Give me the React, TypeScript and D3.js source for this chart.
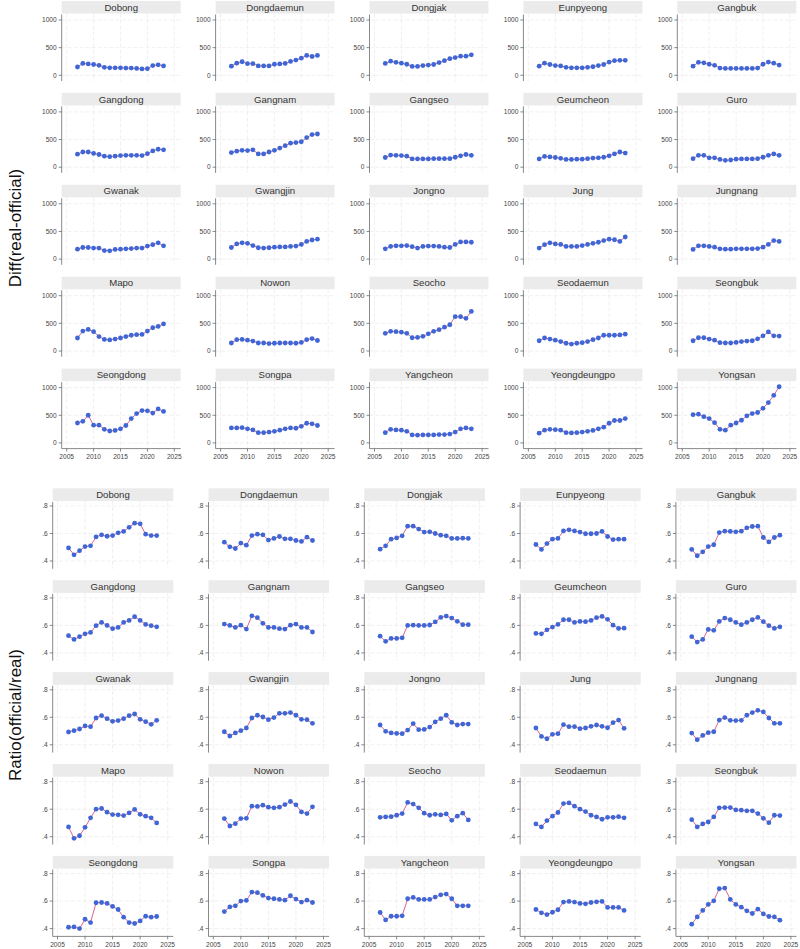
import React from 'react';
import * as d3 from 'd3';

const years = [2007, 2008, 2009, 2010, 2011, 2012, 2013, 2014, 2015, 2016, 2017, 2018, 2019, 2020, 2021, 2022, 2023];
const xTicks = [2005, 2010, 2015, 2020, 2025];
const diffTicks = [0, 500, 1000];
const ratioTicks = [0.4, 0.6, 0.8];

const districts = [
  'Dobong', 'Dongdaemun', 'Dongjak', 'Eunpyeong', 'Gangbuk',
  'Gangdong', 'Gangnam', 'Gangseo', 'Geumcheon', 'Guro',
  'Gwanak', 'Gwangjin', 'Jongno', 'Jung', 'Jungnang',
  'Mapo', 'Nowon', 'Seocho', 'Seodaemun', 'Seongbuk',
  'Seongdong', 'Songpa', 'Yangcheon', 'Yeongdeungpo', 'Yongsan',
];

// Diff(real-official), same order as districts
const diffValues: number[][] = [
  [150, 215, 205, 195, 180, 145, 135, 135, 135, 130, 130, 125, 115, 120, 175, 190, 170],
  [165, 220, 245, 210, 210, 170, 170, 170, 200, 205, 215, 250, 275, 310, 360, 340, 360],
  [215, 255, 235, 220, 200, 160, 160, 175, 185, 195, 230, 265, 300, 320, 345, 345, 370],
  [165, 220, 195, 175, 170, 145, 135, 135, 135, 145, 155, 175, 195, 240, 265, 270, 270],
  [165, 235, 225, 200, 180, 130, 125, 125, 125, 125, 125, 125, 130, 200, 240, 220, 185],
  [235, 275, 275, 250, 230, 200, 190, 200, 210, 215, 215, 215, 210, 245, 295, 325, 315],
  [265, 290, 305, 300, 315, 240, 240, 275, 305, 345, 390, 435, 445, 460, 535, 590, 600],
  [175, 220, 215, 210, 200, 150, 150, 150, 150, 155, 155, 155, 155, 180, 205, 230, 215],
  [150, 195, 185, 175, 160, 140, 140, 145, 145, 155, 165, 170, 180, 205, 240, 275, 255],
  [155, 215, 215, 170, 170, 140, 125, 130, 145, 150, 150, 150, 155, 180, 215, 240, 215],
  [180, 210, 210, 200, 200, 155, 150, 175, 180, 185, 190, 200, 200, 235, 260, 295, 240],
  [210, 275, 295, 285, 245, 205, 200, 205, 215, 220, 220, 230, 235, 265, 320, 345, 360],
  [185, 230, 240, 240, 245, 225, 200, 230, 235, 235, 230, 215, 210, 265, 310, 310, 305],
  [200, 260, 295, 275, 265, 230, 230, 230, 245, 265, 285, 305, 335, 360, 350, 320, 400],
  [175, 240, 240, 230, 215, 185, 180, 180, 185, 185, 185, 185, 190, 215, 265, 335, 320],
  [235, 360, 390, 350, 260, 210, 200, 215, 235, 260, 285, 295, 300, 360, 420, 445, 490],
  [145, 205, 210, 195, 180, 145, 145, 135, 140, 145, 145, 145, 140, 155, 205, 225, 190],
  [320, 355, 350, 340, 320, 240, 245, 265, 310, 355, 385, 430, 475, 620, 620, 590, 715],
  [185, 235, 215, 195, 170, 140, 125, 140, 150, 170, 205, 235, 285, 285, 285, 290, 305],
  [185, 240, 240, 215, 195, 150, 145, 145, 155, 170, 180, 185, 220, 275, 345, 275, 270],
  [360, 390, 500, 320, 320, 245, 215, 225, 255, 315, 440, 530, 585, 580, 540, 615, 570],
  [270, 270, 275, 255, 235, 185, 185, 195, 210, 230, 255, 270, 265, 300, 355, 345, 315],
  [185, 245, 235, 230, 210, 145, 140, 145, 145, 145, 150, 150, 160, 195, 255, 270, 255],
  [175, 230, 245, 240, 230, 185, 180, 185, 195, 210, 225, 255, 285, 355, 405, 405, 440],
  [510, 520, 475, 440, 365, 245, 230, 320, 360, 410, 490, 530, 550, 625, 730, 860, 1015],
];

// Ratio(official/real), same order as districts
const ratioValues: number[][] = [
  [0.495, 0.445, 0.475, 0.505, 0.51, 0.575, 0.59, 0.58, 0.585, 0.605, 0.615, 0.645, 0.675, 0.67, 0.595, 0.585, 0.585],
  [0.537, 0.503, 0.491, 0.53, 0.515, 0.585, 0.595, 0.59, 0.552, 0.564, 0.578, 0.561, 0.561, 0.549, 0.542, 0.573, 0.549],
  [0.486, 0.51, 0.559, 0.568, 0.583, 0.653, 0.653, 0.632, 0.61, 0.612, 0.6, 0.588, 0.583, 0.564, 0.564, 0.566, 0.564],
  [0.52, 0.484, 0.527, 0.559, 0.564, 0.619, 0.627, 0.619, 0.61, 0.598, 0.598, 0.6, 0.615, 0.578, 0.556, 0.559, 0.559],
  [0.484, 0.438, 0.467, 0.505, 0.518, 0.607, 0.617, 0.615, 0.612, 0.617, 0.641, 0.651, 0.653, 0.571, 0.539, 0.571, 0.588],
  [0.525, 0.498, 0.518, 0.539, 0.549, 0.598, 0.622, 0.6, 0.576, 0.585, 0.622, 0.636, 0.663, 0.636, 0.607, 0.598, 0.59],
  [0.61, 0.6, 0.585, 0.602, 0.573, 0.67, 0.656, 0.615, 0.585, 0.585, 0.576, 0.573, 0.602, 0.61, 0.585, 0.585, 0.552],
  [0.522, 0.484, 0.505, 0.505, 0.51, 0.6, 0.602, 0.6, 0.6, 0.603, 0.625, 0.658, 0.668, 0.653, 0.63, 0.605, 0.605],
  [0.542, 0.539, 0.568, 0.588, 0.607, 0.641, 0.641, 0.622, 0.629, 0.627, 0.636, 0.656, 0.665, 0.644, 0.602, 0.578, 0.58],
  [0.518, 0.479, 0.498, 0.571, 0.564, 0.629, 0.653, 0.641, 0.622, 0.605, 0.622, 0.641, 0.658, 0.627, 0.598, 0.578, 0.59],
  [0.493, 0.503, 0.515, 0.537, 0.532, 0.595, 0.612, 0.59, 0.571, 0.576, 0.59, 0.612, 0.624, 0.585, 0.568, 0.549, 0.578],
  [0.495, 0.464, 0.486, 0.503, 0.522, 0.595, 0.615, 0.602, 0.583, 0.598, 0.629, 0.629, 0.634, 0.615, 0.585, 0.583, 0.556],
  [0.544, 0.498, 0.486, 0.483, 0.481, 0.507, 0.554, 0.51, 0.512, 0.529, 0.566, 0.59, 0.615, 0.563, 0.544, 0.551, 0.551],
  [0.522, 0.461, 0.444, 0.476, 0.481, 0.546, 0.532, 0.532, 0.517, 0.522, 0.534, 0.544, 0.534, 0.524, 0.561, 0.58, 0.52],
  [0.485, 0.437, 0.468, 0.488, 0.495, 0.58, 0.598, 0.578, 0.576, 0.578, 0.615, 0.634, 0.651, 0.639, 0.595, 0.556, 0.556],
  [0.471, 0.388, 0.407, 0.468, 0.537, 0.6, 0.605, 0.578, 0.561, 0.559, 0.554, 0.573, 0.598, 0.563, 0.549, 0.537, 0.5],
  [0.532, 0.478, 0.495, 0.532, 0.534, 0.622, 0.62, 0.629, 0.615, 0.61, 0.615, 0.634, 0.656, 0.632, 0.58, 0.568, 0.617],
  [0.541, 0.544, 0.546, 0.556, 0.568, 0.649, 0.637, 0.61, 0.571, 0.556, 0.563, 0.558, 0.566, 0.519, 0.549, 0.571, 0.522],
  [0.493, 0.471, 0.517, 0.549, 0.576, 0.641, 0.646, 0.622, 0.6, 0.583, 0.556, 0.544, 0.527, 0.541, 0.541, 0.546, 0.537],
  [0.524, 0.471, 0.493, 0.507, 0.544, 0.61, 0.612, 0.612, 0.595, 0.593, 0.588, 0.588, 0.568, 0.534, 0.502, 0.556, 0.554],
  [0.41, 0.412, 0.4, 0.468, 0.444, 0.588, 0.59, 0.583, 0.561, 0.539, 0.483, 0.444, 0.437, 0.456, 0.49, 0.483, 0.488],
  [0.524, 0.558, 0.566, 0.6, 0.605, 0.666, 0.661, 0.641, 0.622, 0.617, 0.612, 0.607, 0.639, 0.615, 0.593, 0.607, 0.59],
  [0.517, 0.463, 0.49, 0.49, 0.493, 0.617, 0.627, 0.612, 0.612, 0.612, 0.629, 0.646, 0.651, 0.617, 0.566, 0.566, 0.566],
  [0.539, 0.515, 0.502, 0.519, 0.537, 0.593, 0.598, 0.593, 0.583, 0.58, 0.59, 0.595, 0.598, 0.554, 0.554, 0.554, 0.532],
  [0.432, 0.485, 0.532, 0.576, 0.602, 0.69, 0.695, 0.612, 0.576, 0.556, 0.529, 0.51, 0.541, 0.507, 0.488, 0.485, 0.461],
];

const FONT = 'Arial, "Liberation Sans", sans-serif';
const LINE_COLOR = '#d9507e';
const DOT_COLOR = '#3e66d6';
const GRID_COLOR = '#e9e9e9';
const AXIS_COLOR = '#6a6a6a';

interface PanelLayout {
  left0: number;
  colStep: number;
  top0: number;
  rowStep: number;
  width: number;
  headerH: number;
  bottom: number;
  xRange: [number, number];
  yDomain: [number, number];
  yRange: [number, number];
  ticks: number[];
  fmt: (v: number) => string;
}

const diffLayout: PanelLayout = {
  left0: 61.7, colStep: 153.9, top0: 1, rowStep: 91.9, width: 119, headerH: 12.5, bottom: 80,
  xRange: [5, 112.6], yDomain: [0, 1000], yRange: [74.3, 19],
  ticks: diffTicks, fmt: (v) => String(v),
};

const ratioLayout: PanelLayout = {
  left0: 52.7, colStep: 155.8, top0: 488.3, rowStep: 91.9, width: 120.6, headerH: 12.7, bottom: 80.5,
  xRange: [4.8, 115], yDomain: [0.4, 0.8], yRange: [72.7, 17.7],
  ticks: ratioTicks, fmt: (v) => d3.format('.1f')(v).replace(/^0/, ''),
};

const Facet: React.FC<{ name: string; values: number[]; col: number; row: number; lay: PanelLayout; showX: boolean }> = ({
  name, values, col, row, lay, showX,
}) => {
  const left = lay.left0 + col * lay.colStep;
  const top = lay.top0 + row * lay.rowStep;
  const x = d3.scaleLinear().domain([2005, 2025]).range(lay.xRange);
  const y = d3.scaleLinear().domain(lay.yDomain).range(lay.yRange);
  const line = d3.line<number>().x((_, i) => x(years[i])).y((d) => y(d));
  return (
    <g transform={`translate(${left},${top})`}>
      <rect x={0} y={0} width={lay.width} height={lay.headerH} fill="#ebebeb" />
      <text x={lay.width / 2} y={lay.headerH / 2 + 3.4} textAnchor="middle" fontSize={9.6} fill="#333" fontFamily={FONT}>
        {name}
      </text>
      {xTicks.map((t) => (
        <line key={`gx${t}`} x1={x(t)} x2={x(t)} y1={lay.headerH} y2={lay.bottom} stroke={GRID_COLOR} strokeWidth={0.7} strokeDasharray="4,2" />
      ))}
      {lay.ticks.map((t) => (
        <line key={`gy${t}`} x1={0} x2={lay.width} y1={y(t)} y2={y(t)} stroke={GRID_COLOR} strokeWidth={0.7} strokeDasharray="4,2" />
      ))}
      <line x1={0} x2={0} y1={lay.headerH + 1} y2={lay.bottom} stroke={AXIS_COLOR} strokeWidth={0.8} />
      {lay.ticks.map((t) => (
        <g key={`ty${t}`}>
          <line x1={-3} x2={0} y1={y(t)} y2={y(t)} stroke={AXIS_COLOR} strokeWidth={0.8} />
          <text x={-5} y={y(t) + 2.3} textAnchor="end" fontSize={6.6} fill="#444" fontFamily={FONT}>
            {lay.fmt(t)}
          </text>
        </g>
      ))}
      {showX && (
        <g>
          <line x1={0} x2={lay.width} y1={lay.bottom} y2={lay.bottom} stroke={AXIS_COLOR} strokeWidth={0.8} />
          {xTicks.map((t) => (
            <g key={`tx${t}`}>
              <line x1={x(t)} x2={x(t)} y1={lay.bottom} y2={lay.bottom + 3} stroke={AXIS_COLOR} strokeWidth={0.8} />
              <text x={x(t)} y={lay.bottom + 10.5} textAnchor="middle" fontSize={6.6} fill="#444" fontFamily={FONT}>
                {t}
              </text>
            </g>
          ))}
        </g>
      )}
      <path d={line(values) || ''} fill="none" stroke={LINE_COLOR} strokeWidth={0.9} />
      {values.map((v, i) => (
        <circle key={i} cx={x(years[i])} cy={y(v)} r={2.4} fill={DOT_COLOR} />
      ))}
    </g>
  );
};

const App: React.FC = () => (
  <svg width={800} height={949} style={{ position: 'absolute', left: 0, top: 0, background: '#fff' }}>
    <rect width={800} height={949} fill="#fff" />
    {districts.map((name, i) => (
      <Facet key={`d${name}`} name={name} values={diffValues[i]} col={i % 5} row={Math.floor(i / 5)} lay={diffLayout} showX={i >= 20} />
    ))}
    {districts.map((name, i) => (
      <Facet key={`r${name}`} name={name} values={ratioValues[i]} col={i % 5} row={Math.floor(i / 5)} lay={ratioLayout} showX={i >= 20} />
    ))}
    <text transform="translate(21,228) rotate(-90)" textAnchor="middle" fontSize={17} fill="#111" fontFamily={FONT}>
      Diff(real-official)
    </text>
    <text transform="translate(21,715) rotate(-90)" textAnchor="middle" fontSize={17} fill="#111" fontFamily={FONT}>
      Ratio(official/real)
    </text>
  </svg>
);

export default App;
